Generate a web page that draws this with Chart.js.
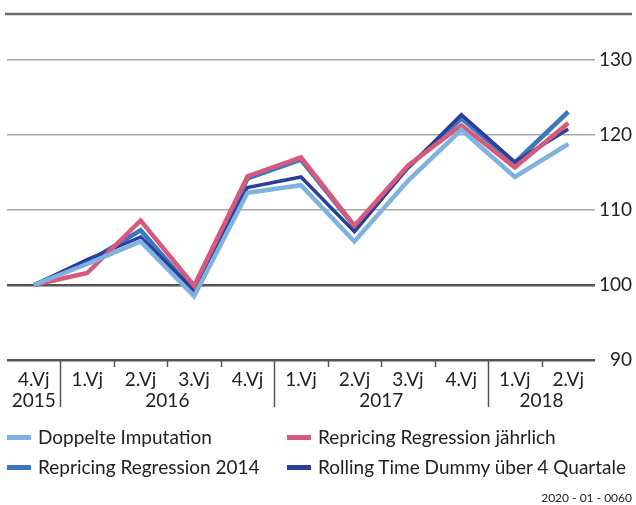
<!DOCTYPE html>
<html>
<head>
<meta charset="utf-8">
<script src="https://cdn.jsdelivr.net/npm/chart.js@4"></script>
<style>
  body { margin: 0; background: #fff; }
  #wrap { position: relative; width: 636px; height: 505px; font-family: Lato, sans-serif; color: #222; }
  #chart { position: absolute; left: 0; top: 0; }
  .item { position: absolute; font-size: 19px; line-height: 20px; white-space: nowrap; }
  .swatch { position: absolute; width: 24px; height: 5px; }
  #footer { position: absolute; right: 4px; top: 490px; font-size: 12px; }
</style>
</head>
<body>
<div id="wrap">
  <canvas id="chart" width="636" height="505"></canvas>
  <div id="legend"></div>
  <div id="footer">2020 - 01 - 0060</div>
</div>
<script>
// quarters and years
const quarters = ["4.Vj", "1.Vj", "2.Vj", "3.Vj", "4.Vj", "1.Vj", "2.Vj", "3.Vj", "4.Vj", "1.Vj", "2.Vj"];
const years = [
  { label: "2015", from: 0, to: 0 },
  { label: "2016", from: 1, to: 4 },
  { label: "2017", from: 5, to: 8 },
  { label: "2018", from: 9, to: 10 },
];
const yTicks = [90, 100, 110, 120, 130];

// index values (4.Vj 2015 = 100)
const doppelteImputation = [100, 102.8, 105.8, 98.5, 112.3, 113.3, 105.8, 113.9, 120.7, 114.4, 118.8];
const repricingJaehrlich = [100, 101.6, 108.6, 99.9, 114.5, 117.0, 107.9, 115.9, 121.3, 115.7, 121.6];
const repricing2014 = [100, 103.0, 107.3, 99.1, 114.2, 116.7, 107.8, 115.7, 122.2, 116.3, 123.1];
const rollingTimeDummy = [100, 103.4, 106.4, 99.3, 113.0, 114.4, 107.1, 115.6, 122.7, 116.4, 120.8];

const series = [
  { label: "Doppelte Imputation", data: doppelteImputation, color: "#7db2e1", width: 4.5, order: 1 },
  { label: "Repricing Regression jährlich", data: repricingJaehrlich, color: "#d85a7b", width: 4.5, order: 2 },
  { label: "Repricing Regression 2014", data: repricing2014, color: "#3a78c1", width: 4.5, order: 4 },
  { label: "Rolling Time Dummy über 4 Quartale", data: rollingTimeDummy, color: "#2b3f98", width: 3.5, order: 3 },
];

// legend positions (two columns)
const legendPos = [[7, 427], [287, 427], [7, 457], [287, 457]];
const legend = document.getElementById("legend");
series.forEach((s, i) => {
  const [x, y] = legendPos[i];
  const sw = document.createElement("div");
  sw.className = "swatch";
  sw.style.left = x + "px";
  sw.style.top = y + 8 + "px";
  sw.style.background = s.color;
  legend.appendChild(sw);
  const t = document.createElement("div");
  t.className = "item";
  t.style.left = x + 31 + "px";
  t.style.top = y + "px";
  t.textContent = s.label;
  legend.appendChild(t);
});

const extras = {
  id: "extras",
  afterDraw(chart) {
    const ctx = chart.ctx;
    const x = chart.scales.x;
    const bottom = chart.chartArea.bottom;
    ctx.save();
    // top rule
    ctx.strokeStyle = "#6b6b6b";
    ctx.lineWidth = 2.5;
    ctx.beginPath();
    ctx.moveTo(5, 14);
    ctx.lineTo(632, 14);
    ctx.stroke();

    // separators between quarters, long ones between years
    ctx.strokeStyle = "#555";
    ctx.lineWidth = 1.5;
    const yearStarts = years.map((y) => y.from);
    for (let i = 1; i < quarters.length; i++) {
      const px = Math.round((x.getPixelForValue(i - 1) + x.getPixelForValue(i)) / 2) + 0.5;
      const len = yearStarts.includes(i) ? 47 : 7;
      ctx.beginPath();
      ctx.moveTo(px, bottom);
      ctx.lineTo(px, bottom + len);
      ctx.stroke();
    }

    // year labels
    ctx.fillStyle = "#222";
    ctx.font = "19px Lato";
    ctx.textAlign = "center";
    ctx.textBaseline = "middle";
    years.forEach((y) => {
      const cx = (x.getPixelForValue(y.from) + x.getPixelForValue(y.to)) / 2;
      ctx.fillText(y.label, cx, bottom + 41);
    });
    ctx.restore();
  },
};

new Chart(document.getElementById("chart"), {
  type: "line",
  data: {
    labels: quarters,
    datasets: series.map((s) => ({
      label: s.label,
      data: s.data,
      borderColor: s.color,
      borderWidth: s.width,
      pointRadius: 0,
      tension: 0,
      fill: false,
      order: s.order,
    })),
  },
  options: {
    responsive: false,
    animation: false,
    layout: { padding: { left: 7, right: 4, top: 60, bottom: 0 } },
    plugins: { legend: { display: false }, tooltip: { enabled: false } },
    scales: {
      x: {
        offset: true,
        grid: { display: false },
        border: { display: false },
        ticks: { autoSkip: false, maxRotation: 0, padding: 0, color: "#222", font: { family: "Lato", size: 19 } },
        afterFit(scale) {
          scale.height = 145;
        },
      },
      y: {
        position: "right",
        min: 90,
        max: 130,
        afterBuildTicks(scale) {
          scale.ticks = yTicks.map((v) => ({ value: v }));
        },
        grid: {
          drawTicks: false,
          color: (c) => (c.tick && c.tick.value <= 100 ? "#555" : "#a8a8a8"),
          lineWidth: (c) => (c.tick && c.tick.value <= 100 ? 2.5 : 1.5),
        },
        border: { display: false },
        ticks: { crossAlign: "far", padding: 4, color: "#222", font: { family: "Lato", size: 19 } },
        afterFit(scale) {
          scale.width = 37;
        },
      },
    },
  },
  plugins: [extras],
});
</script>
</body>
</html>
